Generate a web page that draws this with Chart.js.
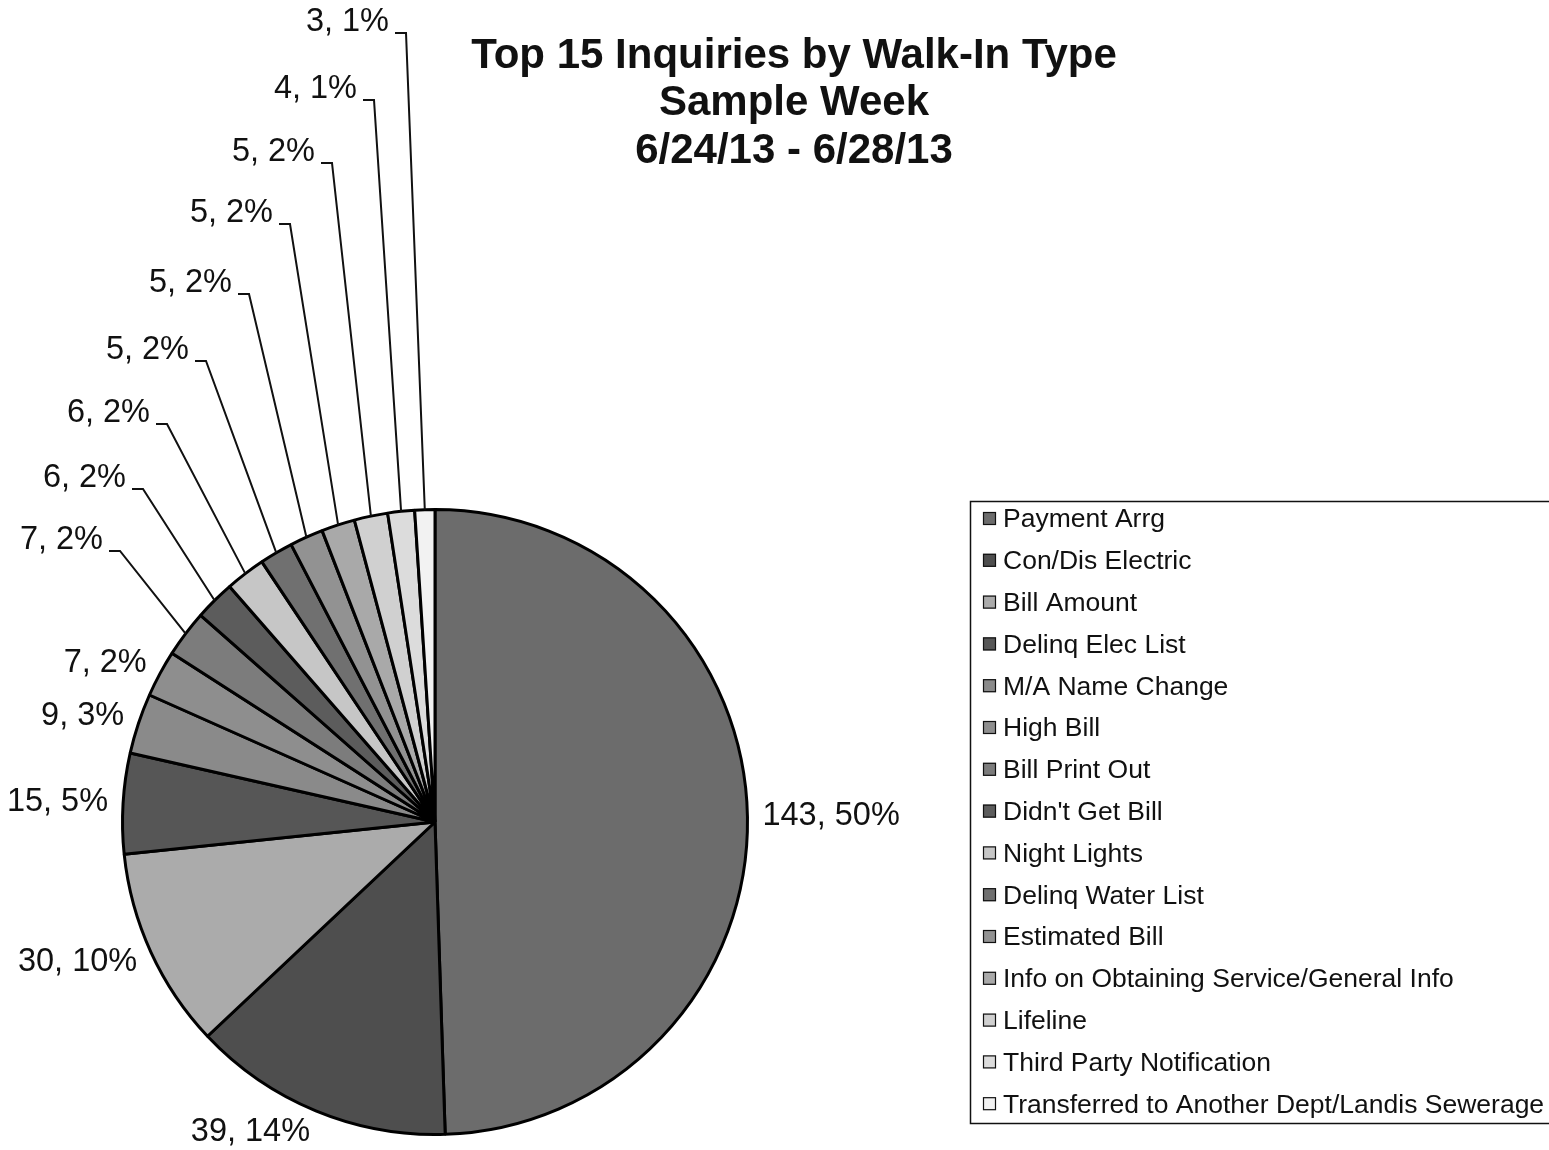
<!DOCTYPE html>
<html>
<head>
<meta charset="utf-8">
<title>Top 15 Inquiries by Walk-In Type</title>
<script src="https://cdn.jsdelivr.net/npm/chart.js@4.4.0/dist/chart.umd.min.js"></script>
<style>
  html, body { margin: 0; padding: 0; background: #fff; }
</style>
</head>
<body>
<canvas id="walkInChart" width="1549" height="1150"></canvas>
<script>
// Walk-in inquiry types, in the order the slices run clockwise from 12 o'clock
const categories = [
  'Payment Arrg', 'Con/Dis Electric', 'Bill Amount', 'Delinq Elec List',
  'M/A Name Change', 'High Bill', 'Bill Print Out', "Didn't Get Bill",
  'Night Lights', 'Delinq Water List', 'Estimated Bill',
  'Info on Obtaining Service/General Info', 'Lifeline',
  'Third Party Notification', 'Transferred to Another Dept/Landis Sewerage'
];
const inquiryCounts = [143, 39, 30, 15, 9, 7, 7, 6, 6, 5, 5, 5, 5, 4, 3];
const percentLabels = ['50%', '14%', '10%', '5%', '3%', '2%', '2%', '2%', '2%', '2%', '2%', '2%', '2%', '1%', '1%'];
const titleLines = ['Top 15 Inquiries by Walk-In Type', 'Sample Week', '6/24/13 - 6/28/13'];

const sliceGreys = [
  '#6c6c6c', '#4e4e4e', '#ababab', '#565656', '#8a8a8a', '#8e8e8e', '#7c7c7c', '#5c5c5c',
  '#c6c6c6', '#707070', '#929292', '#a9a9a9', '#d0d0d0', '#dcdcdc', '#f2f2f2'
];

// the thin slices get callout labels stacked up the left side (text right edge, middle y)
const firstCallout = 6;
const calloutSpots = [[103, 540], [126, 478], [150, 413], [189, 350], [232, 283], [273, 213], [315, 152], [357, 89], [389, 22]];

const labelFont = '32.5px "Liberation Sans", Arial, sans-serif';
const legendFont = '26.5px "Liberation Sans", Arial, sans-serif';
const titleFont = 'bold 42px "Liberation Sans", Arial, sans-serif';

const sliceLabels = {
  id: 'sliceLabels',
  afterDatasetsDraw(chart) {
    const ctx = chart.ctx;
    const arcs = chart.getDatasetMeta(0).data;
    ctx.save();
    ctx.font = labelFont;
    ctx.fillStyle = '#111';
    ctx.strokeStyle = '#111';
    ctx.lineWidth = 2;
    arcs.forEach((arc, i) => {
      const text = inquiryCounts[i] + ', ' + percentLabels[i];
      const mid = (arc.startAngle + arc.endAngle) / 2;
      const dx = Math.cos(mid), dy = Math.sin(mid);
      const R = arc.outerRadius;
      const ex = arc.x + R * dx, ey = arc.y + R * dy;
      if (i < firstCallout) {
        // outside-end label, pushed clear of the rim
        const w = ctx.measureText(text).width;
        const lx = ex + 15 * dx + Math.sign(dx) * w / 2;
        const ly = ey + 10 * dy + dy * 13;
        ctx.textAlign = 'center';
        ctx.textBaseline = 'middle';
        ctx.fillText(text, lx, ly);
      } else {
        const [xr, yc] = calloutSpots[i - firstCallout];
        ctx.textAlign = 'right';
        ctx.textBaseline = 'middle';
        ctx.fillText(text, xr, yc);
        ctx.beginPath();
        ctx.moveTo(xr + 6, yc + 11);
        ctx.lineTo(xr + 17, yc + 11);
        ctx.lineTo(ex, ey);
        ctx.stroke();
      }
    });
    ctx.restore();
  }
};

const titleAndLegend = {
  id: 'titleAndLegend',
  afterDraw(chart) {
    const ctx = chart.ctx;
    ctx.save();
    ctx.fillStyle = '#111';
    ctx.textAlign = 'center';
    ctx.textBaseline = 'middle';
    ctx.font = titleFont;
    titleLines.forEach((line, i) => ctx.fillText(line, 794, 56 + i * 47.5));

    // boxed legend on the right, running off the canvas edge
    ctx.strokeStyle = '#111';
    ctx.lineWidth = 1.5;
    ctx.strokeRect(970.5, 501.5, 600, 622);
    ctx.font = legendFont;
    ctx.textAlign = 'left';
    categories.forEach((name, i) => {
      const y = 519 + i * 41.8;
      ctx.fillStyle = sliceGreys[i];
      ctx.fillRect(983, y - 7, 13, 13);
      ctx.lineWidth = 1.2;
      ctx.strokeRect(983.5, y - 6.5, 12, 12);
      ctx.fillStyle = '#111';
      ctx.fillText(name, 1003, y + 1);
    });
    ctx.restore();
  }
};

new Chart(document.getElementById('walkInChart'), {
  type: 'pie',
  data: {
    labels: categories,
    datasets: [{
      data: inquiryCounts,
      backgroundColor: sliceGreys,
      borderColor: '#000',
      borderWidth: 3,
      borderAlign: 'center'
    }]
  },
  options: {
    responsive: false,
    animation: false,
    layout: { padding: { left: 121, right: 800, top: 508, bottom: 14 } },
    plugins: {
      legend: { display: false },
      tooltip: { enabled: false }
    }
  },
  plugins: [sliceLabels, titleAndLegend]
});
</script>
</body>
</html>
